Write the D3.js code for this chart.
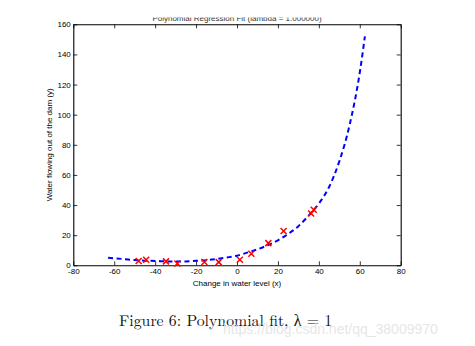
<!DOCTYPE html>
<html>
<head>
<meta charset="utf-8">
<script src="https://cdn.jsdelivr.net/npm/d3@7"></script>
<style>
  html, body { margin: 0; padding: 0; background: #fff; }
  svg { display: block; }
</style>
</head>
<body>
<svg id="chart" width="475" height="346"></svg>
<script>
// ---- data ----
const dataX = [-15.94, -29.15, 36.19, 37.49, -48.06, -8.94, 15.31, -34.71, 1.39, -44.38, 7.01, 22.76];
const dataY = [2.13, 1.17, 34.36, 36.84, 2.81, 2.12, 14.71, 2.61, 3.74, 3.73, 7.63, 22.75];
const fitX = [-63, -55, -50, -45, -40, -35, -30, -25, -20, -15, -10, -5, 0, 5, 10, 15, 20, 25, 30, 35, 40, 45, 50, 55, 60, 62.5];
const fitY = [5.0, 4.1, 3.5, 3.1, 2.9, 2.6, 2.5, 2.6, 3.0, 3.4, 4.2, 5.2, 6.4, 8.4, 10.6, 13.3, 16.6, 20.8, 26, 33, 41, 52, 69, 93, 128, 152];
const xTicks = [-80, -60, -40, -20, 0, 20, 40, 60, 80];
const yTicks = [0, 20, 40, 60, 80, 100, 120, 140, 160];
const titleText = "Polynomial Regression Fit (lambda = 1.000000)";
const xLabel = "Change in water level (x)";
const yLabel = "Water flowing out of the dam (y)";
const caption = "Figure 6: Polynomial fit, \u03bb = 1";
const watermark = "https://blog.csdn.net/qq_38009970";

// ---- layout ----
const svg = d3.select("#chart");
const L = 73.3, R = 400.7, T = 24.3, B = 265.3;
const x = d3.scaleLinear().domain([-80, 80]).range([L, R]);
const y = d3.scaleLinear().domain([0, 160]).range([B, T]);
const font = "'Liberation Sans', Arial, Helvetica, sans-serif";
const fmt = d => String(d);

// clip for the partially cut title
const defs = svg.append("defs");
defs.append("clipPath").attr("id", "titleClip")
  .append("rect").attr("x", 0).attr("y", 17.6).attr("width", 475).attr("height", 20);

// axes
const gB = svg.append("g").attr("transform", `translate(0,${B})`)
  .call(d3.axisBottom(x).tickValues(xTicks).tickFormat(fmt).tickSizeInner(-4).tickSizeOuter(0).tickPadding(3));
const gT = svg.append("g").attr("transform", `translate(0,${T})`)
  .call(d3.axisTop(x).tickValues(xTicks).tickFormat("").tickSizeInner(-4).tickSizeOuter(0));
const gL = svg.append("g").attr("transform", `translate(${L},0)`)
  .call(d3.axisLeft(y).tickValues(yTicks).tickFormat(fmt).tickSizeInner(-4).tickSizeOuter(0).tickPadding(2.5));
const gR = svg.append("g").attr("transform", `translate(${R},0)`)
  .call(d3.axisRight(y).tickValues(yTicks).tickFormat("").tickSizeInner(-4).tickSizeOuter(0));

[gB, gT, gL, gR].forEach(g => {
  g.selectAll("text").attr("font-family", font).attr("font-size", 8).attr("fill", "#000");
  g.selectAll("line").attr("stroke", "#000").attr("stroke-width", 0.8);
  g.select(".domain").attr("stroke", "#000").attr("stroke-width", 1.1);
});

// fit curve
const line = d3.line().x((d, i) => x(fitX[i])).y(d => y(d)).curve(d3.curveMonotoneX);
svg.append("path")
  .attr("d", line(fitY))
  .attr("fill", "none")
  .attr("stroke", "#0000ff")
  .attr("stroke-width", 2)
  .attr("stroke-dasharray", "5,3.5");

// data markers (red x)
const s = 3;
const pts = svg.append("g");
dataX.forEach((dx, i) => {
  const cx = x(dx), cy = y(dataY[i]);
  pts.append("path")
    .attr("d", `M${cx - s},${cy - s}L${cx + s},${cy + s}M${cx - s},${cy + s}L${cx + s},${cy - s}`)
    .attr("stroke", "#ff0000")
    .attr("stroke-width", 1.5)
    .attr("fill", "none");
});

// title (top partially cut)
svg.append("text")
  .attr("clip-path", "url(#titleClip)")
  .attr("x", (L + R) / 2).attr("y", 20.8)
  .attr("text-anchor", "middle")
  .attr("font-family", font).attr("font-size", 8)
  .attr("fill", "#333")
  .text(titleText);

// axis labels
svg.append("text")
  .attr("x", (L + R) / 2).attr("y", 285.5)
  .attr("text-anchor", "middle")
  .attr("font-family", font).attr("font-size", 8)
  .text(xLabel);
svg.append("text")
  .attr("transform", `translate(52,${(T + B) / 2}) rotate(-90)`)
  .attr("text-anchor", "middle")
  .attr("font-family", font).attr("font-size", 8)
  .text(yLabel);

// caption
svg.append("text")
  .attr("x", 119).attr("y", 326)
  .attr("font-family", "'Latin Modern Roman', 'Liberation Serif', 'DejaVu Serif', serif")
  .attr("font-size", 15.8)
  .attr("fill", "#111")
  .text(caption);

// watermark
svg.append("text")
  .attr("x", 223).attr("y", 334)
  .attr("font-family", font).attr("font-size", 14)
  .attr("fill", "#e3e3e3")
  .attr("fill-opacity", 0.9)
  .text(watermark);
</script>
</body>
</html>
